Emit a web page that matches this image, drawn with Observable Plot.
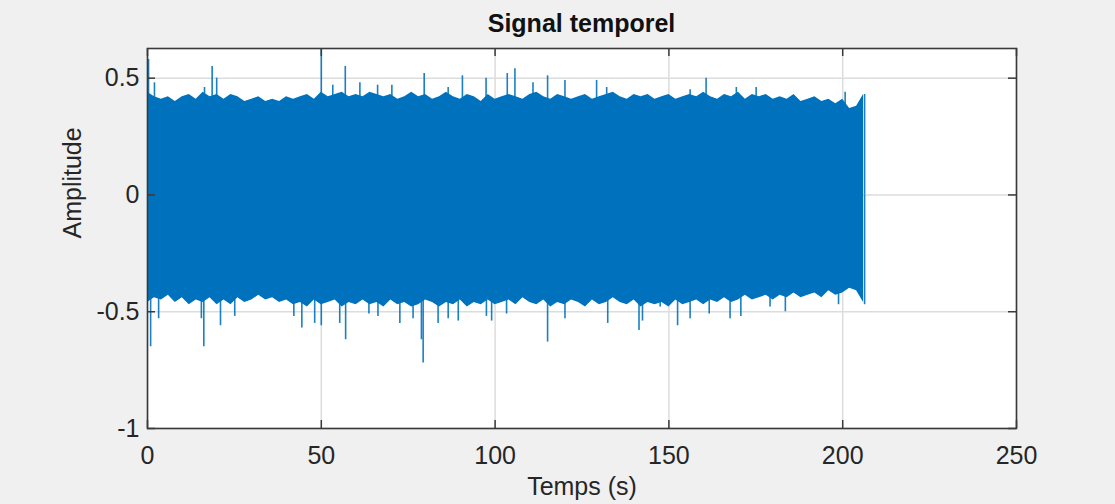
<!DOCTYPE html>
<html>
<head>
<meta charset="utf-8">
<script src="https://cdn.jsdelivr.net/npm/d3@7"></script>
<script src="https://cdn.jsdelivr.net/npm/@observablehq/plot@0.6"></script>
<style>
  html, body { margin: 0; padding: 0; background: #f0f0f0; width: 1115px; height: 504px; overflow: hidden; }
  #title { height: 44px; line-height: 46px; margin-left: 147px; width: 869px; text-align: center;
           font-family: "Liberation Sans", Arial, Helvetica, sans-serif; font-weight: bold; font-size: 25px; color: #111; }
  svg { display: block; }
</style>
</head>
<body>
<div id="title">Signal temporel</div>
<div id="chart"></div>
<script>
// Envelope of the dense signal, read every 2 s (t = 0, 2, ..., 206)
const binStep = 2;
const envHigh = [
  0.44,0.42,0.41,0.42,0.40,0.42,0.43,0.41,0.44,0.42,0.43,
  0.41,0.43,0.42,0.40,0.41,0.42,0.40,0.41,0.40,0.42,
  0.41,0.42,0.43,0.41,0.44,0.42,0.43,0.44,0.42,0.43,
  0.42,0.44,0.43,0.42,0.43,0.41,0.42,0.44,0.42,0.43,
  0.41,0.42,0.44,0.42,0.41,0.43,0.42,0.40,0.43,0.41,
  0.42,0.43,0.42,0.41,0.43,0.44,0.42,0.41,0.43,0.42,
  0.41,0.42,0.43,0.41,0.42,0.43,0.44,0.42,0.41,0.43,
  0.42,0.43,0.41,0.42,0.43,0.41,0.42,0.43,0.42,0.44,
  0.42,0.41,0.43,0.42,0.44,0.41,0.43,0.42,0.43,0.41,
  0.42,0.41,0.43,0.40,0.41,0.42,0.40,0.41,0.39,0.41,
  0.37,0.38,0.43
];
const envLow = [
  -0.46,-0.44,-0.45,-0.43,-0.46,-0.44,-0.47,-0.45,-0.46,-0.44,-0.47,
  -0.45,-0.47,-0.44,-0.46,-0.45,-0.43,-0.45,-0.44,-0.46,-0.45,
  -0.47,-0.46,-0.48,-0.45,-0.47,-0.46,-0.45,-0.48,-0.46,-0.47,
  -0.45,-0.47,-0.46,-0.48,-0.45,-0.47,-0.46,-0.48,-0.47,-0.45,
  -0.46,-0.48,-0.46,-0.47,-0.45,-0.48,-0.46,-0.47,-0.45,-0.47,
  -0.46,-0.45,-0.47,-0.44,-0.46,-0.47,-0.45,-0.48,-0.46,-0.47,
  -0.45,-0.46,-0.48,-0.45,-0.47,-0.46,-0.44,-0.46,-0.47,-0.45,
  -0.48,-0.46,-0.47,-0.46,-0.48,-0.45,-0.47,-0.46,-0.45,-0.47,
  -0.45,-0.46,-0.44,-0.46,-0.45,-0.43,-0.45,-0.44,-0.43,-0.45,
  -0.43,-0.44,-0.42,-0.44,-0.43,-0.42,-0.44,-0.41,-0.43,-0.42,
  -0.40,-0.41,-0.46
];
// Isolated peaks sticking out of the envelope (time in s, amplitude)
const spikeT = [0.3,2.0,16.4,18.6,19.9,50.0,53.3,56.9,61.1,66.2,70.3,79.6,86.5,90.6,97.4,103.5,105.7,110.9,115.1,120.1,129.2,132.1,156.1,160.7,169.4,175.1,200.7,206.3,
  0.9,3.2,15.5,16.2,21.0,25.1,42.1,44.4,48.1,50.0,55.3,57.0,63.7,66.3,72.6,76.4,78.8,79.3,83.6,86.5,89.4,97.5,99.0,103.3,115.1,120.1,132.4,141.4,142.4,147.5,152.5,156.1,161.6,167.6,170.7,179.1,183.5,198.8,206.3];
const spikeV = [0.58,0.48,0.46,0.55,0.50,0.625,0.47,0.55,0.48,0.47,0.47,0.52,0.46,0.51,0.50,0.52,0.54,0.48,0.51,0.49,0.49,0.46,0.45,0.50,0.46,0.46,0.44,0.43,
  -0.65,-0.53,-0.53,-0.65,-0.56,-0.52,-0.52,-0.57,-0.55,-0.56,-0.55,-0.62,-0.51,-0.52,-0.55,-0.53,-0.62,-0.72,-0.55,-0.53,-0.54,-0.52,-0.54,-0.51,-0.63,-0.53,-0.55,-0.58,-0.54,-0.48,-0.56,-0.53,-0.51,-0.53,-0.52,-0.48,-0.50,-0.47,-0.47];

const xTicks = [0, 50, 100, 150, 200, 250];
const yTicks = [-1, -0.5, 0, 0.5];
const xDomain = [0, 250];
const yDomain = [-1, 0.627];

const envelope = envHigh.map((h, i) => ({t: i * binStep, hi: h, lo: envLow[i]}));
const spikes = spikeT.map((t, i) => ({t, v: spikeV[i]}));

const W = 1115, H = 460;
const mL = 147, mR = 99, mT = 4, mB = 76;
const fw = W - mL - mR, fh = H - mT - mB;
const blue = "#0072BD";
const axisCol = "#3a3a3a";
const font = '"Liberation Sans", Arial, Helvetica, sans-serif';

const chart = Plot.plot({
  width: W, height: H,
  marginLeft: mL, marginRight: mR, marginTop: mT, marginBottom: mB,
  style: {background: "transparent", fontFamily: font, fontSize: "25px", color: "#262626"},
  x: {domain: xDomain, ticks: xTicks, label: null},
  y: {domain: yDomain, ticks: yTicks, label: null},
  marks: [
    Plot.frame({fill: "white", stroke: "none"}),
    Plot.gridX(xTicks, {stroke: "#dcdcdc", strokeOpacity: 1, strokeWidth: 1.5}),
    Plot.gridY(yTicks, {stroke: "#dcdcdc", strokeOpacity: 1, strokeWidth: 1.5}),
    Plot.areaY(envelope, {x: "t", y1: "lo", y2: "hi", curve: "linear", fill: blue}),
    Plot.ruleX(spikes, {x: "t", y1: 0, y2: "v", stroke: blue, strokeWidth: 1.6, strokeOpacity: 0.9}),
    Plot.axisX(xTicks, {tickSize: 0, tickPadding: 18, tickFormat: d => String(d), fontSize: 25, fill: "#262626", label: null}),
    Plot.axisY(yTicks, {tickSize: 0, tickPadding: 8, tickFormat: d => String(d), fontSize: 25, fill: "#262626", label: null}),
    // inward tick marks on all four sides
    Plot.ruleX(xTicks, {x: d => d, stroke: axisCol, strokeWidth: 1.5, insetTop: fh - 8}),
    Plot.ruleX(xTicks, {x: d => d, stroke: axisCol, strokeWidth: 1.5, insetBottom: fh - 8}),
    Plot.ruleY(yTicks, {y: d => d, stroke: axisCol, strokeWidth: 1.5, insetRight: fw - 8}),
    Plot.ruleY(yTicks, {y: d => d, stroke: axisCol, strokeWidth: 1.5, insetLeft: fw - 8}),
    Plot.frame({stroke: axisCol, strokeWidth: 1.6}),
    Plot.text(["Temps (s)"], {text: d => d, frameAnchor: "bottom", dy: 66, fontSize: 25, fill: "#262626"}),
    Plot.text(["Amplitude"], {text: d => d, frameAnchor: "left", dx: -75, rotate: -90, fontSize: 25, fill: "#262626"})
  ]
});
document.getElementById("chart").appendChild(chart);
</script>
</body>
</html>
